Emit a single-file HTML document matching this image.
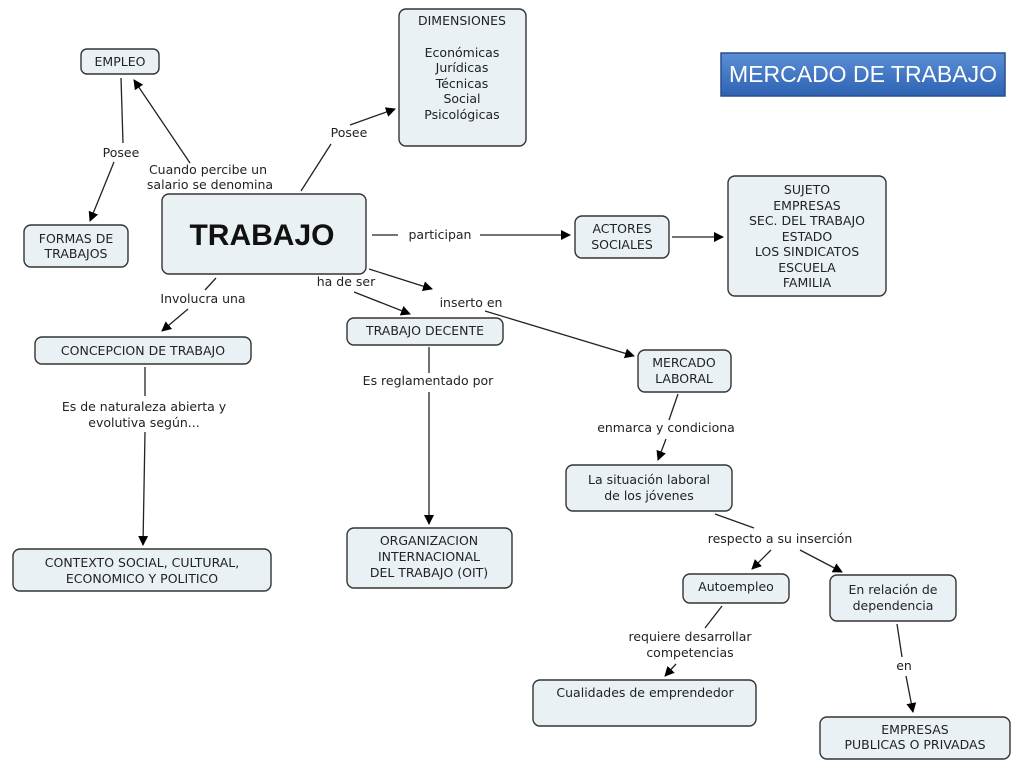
<!DOCTYPE html>
<html><head><meta charset="utf-8"><style>
body{margin:0;background:#fff;}
svg{display:block;}
text{font-family:"DejaVu Sans","Liberation Sans",sans-serif;font-size:12.5px;fill:#222;}
.b{fill:#e9f1f5;stroke:#333;stroke-width:1.4;}
.l{stroke:#222;stroke-width:1.3;fill:none;}
</style></head><body>
<svg width="1024" height="768" viewBox="0 0 1024 768">
<defs>
<marker id="a" markerWidth="10" markerHeight="10" refX="9" refY="5" orient="auto" markerUnits="userSpaceOnUse"><path d="M0,0 L10,5 L0,10 z" fill="#000"/></marker>
<linearGradient id="g" x1="0" y1="0" x2="0" y2="1"><stop offset="0" stop-color="#5b8fd6"/><stop offset="1" stop-color="#2d62b3"/></linearGradient>
</defs>
<!-- lines -->
<g class="l">
<line x1="121" y1="78" x2="123" y2="143"/>
<line x1="114" y1="162" x2="90" y2="221" marker-end="url(#a)"/>
<line x1="190" y1="163" x2="134" y2="80" marker-end="url(#a)"/>
<line x1="301" y1="191" x2="331" y2="144"/>
<line x1="350" y1="125" x2="395" y2="109" marker-end="url(#a)"/>
<line x1="372" y1="235" x2="398" y2="235"/>
<line x1="480" y1="235" x2="570" y2="235" marker-end="url(#a)"/>
<line x1="672" y1="237" x2="723" y2="237" marker-end="url(#a)"/>
<line x1="216" y1="278" x2="205" y2="290"/>
<line x1="188" y1="309" x2="162" y2="331" marker-end="url(#a)"/>
<line x1="354" y1="292" x2="410" y2="314" marker-end="url(#a)"/>
<line x1="369" y1="269" x2="432" y2="289" marker-end="url(#a)"/>
<line x1="485" y1="311" x2="634" y2="356" marker-end="url(#a)"/>
<line x1="429" y1="347" x2="429" y2="373"/>
<line x1="429" y1="392" x2="429" y2="524" marker-end="url(#a)"/>
<line x1="145" y1="367" x2="145" y2="396"/>
<line x1="145" y1="432" x2="143" y2="545" marker-end="url(#a)"/>
<line x1="678" y1="394" x2="669" y2="420"/>
<line x1="666" y1="439" x2="658" y2="460" marker-end="url(#a)"/>
<line x1="715" y1="514" x2="754" y2="528"/>
<line x1="771" y1="550" x2="752" y2="569" marker-end="url(#a)"/>
<line x1="800" y1="550" x2="842" y2="572" marker-end="url(#a)"/>
<line x1="722" y1="606" x2="705" y2="628"/>
<line x1="676" y1="664" x2="665" y2="676" marker-end="url(#a)"/>
<line x1="897" y1="624" x2="902" y2="657"/>
<line x1="906" y1="676" x2="913" y2="712" marker-end="url(#a)"/>
</g>
<!-- boxes -->
<rect class="b" x="81" y="49" width="78" height="25" rx="6"/>
<rect class="b" x="399" y="9" width="127" height="137" rx="7"/>
<rect class="b" x="24" y="225" width="104" height="42" rx="7"/>
<rect class="b" x="162" y="194" width="204" height="80" rx="7"/>
<rect class="b" x="575" y="216" width="94" height="42" rx="7"/>
<rect class="b" x="728" y="176" width="158" height="120" rx="7"/>
<rect class="b" x="35" y="337" width="216" height="27" rx="7"/>
<rect class="b" x="347" y="318" width="156" height="27" rx="7"/>
<rect class="b" x="638" y="350" width="93" height="42" rx="7"/>
<rect class="b" x="566" y="465" width="166" height="46" rx="7"/>
<rect class="b" x="13" y="549" width="258" height="42" rx="7"/>
<rect class="b" x="347" y="528" width="165" height="60" rx="7"/>
<rect class="b" x="683" y="574" width="106" height="29" rx="7"/>
<rect class="b" x="830" y="575" width="126" height="46" rx="7"/>
<rect class="b" x="533" y="680" width="223" height="46" rx="7"/>
<rect class="b" x="820" y="717" width="190" height="42" rx="7"/>
<rect x="721" y="53" width="284" height="43" fill="url(#g)" stroke="#2a4f8c" stroke-width="1.5"/>
<!-- texts -->
<g text-anchor="middle">
<text x="120" y="66">EMPLEO</text>
<text x="462" y="25">DIMENSIONES</text>
<text x="462" y="57">Económicas</text>
<text x="462" y="72">Jurídicas</text>
<text x="462" y="88">Técnicas</text>
<text x="462" y="103">Social</text>
<text x="462" y="119">Psicológicas</text>
<text x="863" y="82" style="font-family:'Liberation Sans',sans-serif;font-size:23px;fill:#fff">MERCADO DE TRABAJO</text>
<text x="76" y="243">FORMAS DE</text>
<text x="76" y="258">TRABAJOS</text>
<text x="262" y="245" style="font-family:'Liberation Sans',sans-serif;font-size:30px;font-weight:bold;fill:#111">TRABAJO</text>
<text x="622" y="233">ACTORES</text>
<text x="622" y="249">SOCIALES</text>
<text x="807" y="194">SUJETO</text>
<text x="807" y="210">EMPRESAS</text>
<text x="807" y="225">SEC. DEL TRABAJO</text>
<text x="807" y="241">ESTADO</text>
<text x="807" y="256">LOS SINDICATOS</text>
<text x="807" y="272">ESCUELA</text>
<text x="807" y="287">FAMILIA</text>
<text x="143" y="355">CONCEPCION DE TRABAJO</text>
<text x="425" y="335">TRABAJO DECENTE</text>
<text x="684" y="367">MERCADO</text>
<text x="684" y="383">LABORAL</text>
<text x="649" y="484">La situación laboral</text>
<text x="649" y="500">de los jóvenes</text>
<text x="142" y="567">CONTEXTO SOCIAL, CULTURAL,</text>
<text x="142" y="583">ECONOMICO Y POLITICO</text>
<text x="429" y="545">ORGANIZACION</text>
<text x="429" y="561">INTERNACIONAL</text>
<text x="429" y="577">DEL TRABAJO (OIT)</text>
<text x="736" y="591">Autoempleo</text>
<text x="893" y="594">En relación de</text>
<text x="893" y="610">dependencia</text>
<text x="645" y="697">Cualidades de emprendedor</text>
<text x="915" y="734">EMPRESAS</text>
<text x="915" y="749">PUBLICAS O PRIVADAS</text>
<!-- link labels -->
<text x="121" y="157">Posee</text>
<text x="208" y="174">Cuando percibe un</text>
<text x="210" y="189">salario se denomina</text>
<text x="349" y="137">Posee</text>
<text x="440" y="239">participan</text>
<text x="203" y="303">Involucra una</text>
<text x="346" y="286">ha de ser</text>
<text x="471" y="307">inserto en</text>
<text x="428" y="385">Es reglamentado por</text>
<text x="144" y="411">Es de naturaleza abierta y</text>
<text x="144" y="427">evolutiva según...</text>
<text x="666" y="432">enmarca y condiciona</text>
<text x="780" y="543">respecto a su inserción</text>
<text x="690" y="641">requiere desarrollar</text>
<text x="690" y="657">competencias</text>
<text x="904" y="670">en</text>
</g>
</svg>
</body></html>
